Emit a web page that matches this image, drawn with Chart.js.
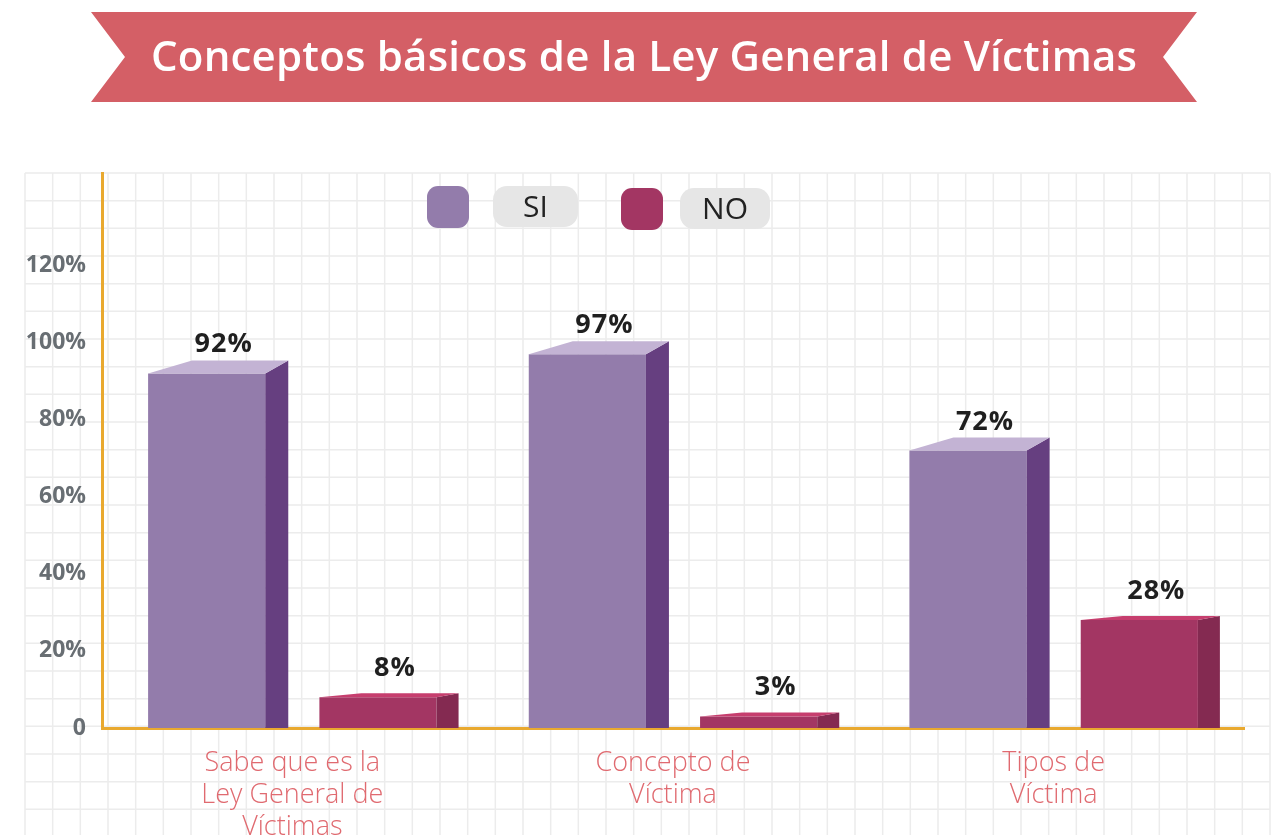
<!DOCTYPE html>
<html lang="es">
<head>
<meta charset="UTF-8">
<title>Conceptos básicos de la Ley General de Víctimas</title>
<style>
  html, body { margin: 0; padding: 0; background: #fff; }
  #wrap { position: relative; width: 1283px; height: 835px; }
</style>
</head>
<body>
<div id="wrap"><canvas id="myChart"></canvas></div>

<script src="https://cdn.jsdelivr.net/npm/chart.js"></script>
<script>
// datos del grafico
const titulo = 'Conceptos básicos de la Ley General de Víctimas';
const categorias = [['Sabe que es la', 'Ley General de', 'Víctimas'], ['Concepto de', 'Víctima'], ['Tipos de', 'Víctima']];
const serieSi = [92, 97, 72];
const serieNo = [8, 3, 28];
const nombresSeries = ['SI', 'NO'];
const ticksY = [0, 20, 40, 60, 80, 100, 120];

// colores: frente, lado, tapa
const coloresSi = ['#937cab', '#663f80', '#c3b3d4'];
const coloresNo = ['#a33663', '#842a51', '#c63e6e'];

// fondo cuadriculado + cinta del titulo
const fondo = {
    id: 'fondo',
    beforeDraw(chart) {
        const ctx = chart.ctx;
        ctx.save();
        ctx.strokeStyle = '#ececec';
        ctx.lineWidth = 1.5;
        const paso = 1245 / 45;
        ctx.beginPath();
        for (let x = 25; x <= 1271; x += paso) { ctx.moveTo(x, 173); ctx.lineTo(x, 835); }
        for (let y = 173; y <= 836; y += paso) { ctx.moveTo(25, y); ctx.lineTo(1270, y); }
        ctx.stroke();

        ctx.fillStyle = '#d45f66';
        ctx.beginPath();
        ctx.moveTo(91, 12); ctx.lineTo(1197, 12); ctx.lineTo(1163, 57);
        ctx.lineTo(1197, 102); ctx.lineTo(91, 102); ctx.lineTo(125, 57);
        ctx.closePath();
        ctx.fill();

        ctx.fillStyle = '#ffffff';
        ctx.font = '600 42px "Open Sans"';
        ctx.textAlign = 'left';
        ctx.textBaseline = 'alphabetic';
        ctx.letterSpacing = '0px';
        const w = ctx.measureText(titulo).width;
        const esp = (986 - w) / (titulo.length - 1);
        ctx.letterSpacing = esp + 'px';
        ctx.fillText(titulo, 151, 71);
        ctx.restore();
    }
};

// caras laterales y superiores de las barras + etiquetas de valor
const barras3d = {
    id: 'barras3d',
    afterDatasetsDraw(chart) {
        const ctx = chart.ctx;
        ctx.save();
        chart.data.datasets.forEach((ds, i) => {
            const meta = chart.getDatasetMeta(i);
            const p = ds.prof;
            meta.data.forEach((bar, j) => {
                const { x, y, base, width } = bar.getProps(['x', 'y', 'base', 'width'], true);
                const izq = x - width / 2, der = x + width / 2;

                ctx.fillStyle = ds.colorLado;
                ctx.beginPath();
                ctx.moveTo(der, y); ctx.lineTo(der + p.dx, y - p.dy);
                ctx.lineTo(der + p.dx, base); ctx.lineTo(der, base);
                ctx.closePath();
                ctx.fill();

                ctx.fillStyle = ds.colorTapa;
                ctx.beginPath();
                ctx.moveTo(izq, y); ctx.lineTo(izq + p.dxTapa, y - p.dy);
                ctx.lineTo(der + p.dx, y - p.dy); ctx.lineTo(der, y);
                ctx.closePath();
                ctx.fill();

                ctx.fillStyle = '#1f1f1f';
                ctx.font = 'bold 27px "Open Sans"';
                ctx.letterSpacing = '1px';
                ctx.textAlign = 'center';
                ctx.textBaseline = 'alphabetic';
                ctx.fillText(ds.data[j] + '%', x + 17, y - 21);
            });
        });
        ctx.restore();
    }
};

// leyenda: cuadro de color + pastilla gris con el nombre
const leyenda = {
    id: 'leyenda',
    afterDraw(chart) {
        const ctx = chart.ctx;
        const pos = [
            { x: 427, y: 186, px: 493, pw: 85 },
            { x: 621, y: 188, px: 680, pw: 90 }
        ];
        ctx.save();
        chart.data.datasets.forEach((ds, i) => {
            const p = pos[i];
            ctx.fillStyle = ds.backgroundColor;
            ctx.beginPath();
            ctx.roundRect(p.x, p.y, 42, 42, 11);
            ctx.fill();

            ctx.fillStyle = '#e6e6e6';
            ctx.beginPath();
            ctx.roundRect(p.px, p.y, p.pw, 41, 14);
            ctx.fill();

            ctx.fillStyle = '#222222';
            ctx.font = '30px "Open Sans"';
            ctx.textAlign = 'center';
            ctx.textBaseline = 'middle';
            ctx.fillText(ds.label, p.px + p.pw / 2, p.y + 22);
        });
        ctx.restore();
    }
};

const ctx = document.getElementById('myChart').getContext('2d');
const myChart = new Chart(ctx, {
    type: 'bar',
    data: {
        labels: categorias,
        datasets: [{
            label: nombresSeries[0],
            data: serieSi,
            backgroundColor: coloresSi[0],
            colorLado: coloresSi[1],
            colorTapa: coloresSi[2],
            prof: { dx: 23, dxTapa: 44, dy: 13 },
            categoryPercentage: 0.9,
            barPercentage: 0.684
        }, {
            label: nombresSeries[1],
            data: serieNo,
            backgroundColor: coloresNo[0],
            colorLado: coloresNo[1],
            colorTapa: coloresNo[2],
            prof: { dx: 22, dxTapa: 42, dy: 4 },
            categoryPercentage: 0.9,
            barPercentage: 0.684
        }]
    },
    options: {
        responsive: true,
        maintainAspectRatio: false,
        animation: false,
        layout: { padding: { top: 173, right: 39, left: 0, bottom: 0 } },
        plugins: {
            legend: { display: false },
            title: { display: false },
            tooltip: { enabled: false }
        },
        scales: {
            x: {
                grid: { display: false, drawTicks: false },
                border: { color: '#e9a92f', width: 3 },
                ticks: {
                    color: '#e06a70',
                    font: { family: 'Open Sans', size: 27, weight: '300', lineHeight: 1.17 },
                    padding: 20,
                    maxRotation: 0,
                    autoSkip: false
                },
                afterFit: s => { s.height = 107; }
            },
            y: {
                min: 0,
                max: 144,
                grid: { display: false, drawTicks: false },
                border: { color: '#e9a92f', width: 3 },
                afterBuildTicks: s => { s.ticks = ticksY.map(v => ({ value: v })); },
                ticks: {
                    color: '#686e73',
                    font: { family: 'Open Sans', size: 23, weight: 'bold' },
                    padding: 16,
                    callback: v => v === 0 ? '0' : v + '%'
                },
                afterFit: s => { s.width = 102; }
            }
        }
    },
    plugins: [fondo, barras3d, leyenda]
});
</script>
</body>
</html>
